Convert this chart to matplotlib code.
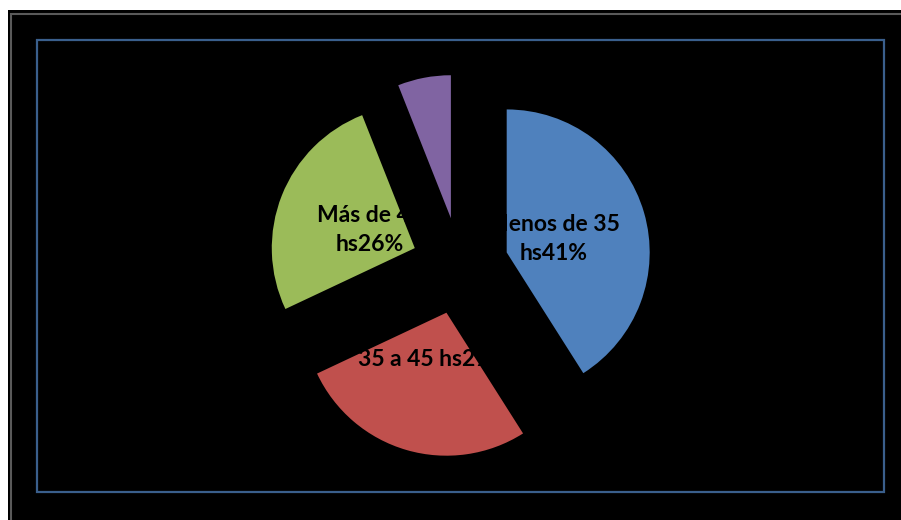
import matplotlib
matplotlib.use('Agg')
import matplotlib.pyplot as plt
from matplotlib.patches import Rectangle

# Data
categories = ['Menos de 35\nhs', '35 a 45 hs', 'Más de 45\nhs', 'Otros']
values = [41, 27, 26, 6]
colors = ['#4F81BD', '#C0504D', '#9BBB59', '#8064A2']
show_label = [True, True, True, False]

W, H = 901, 520
fig = plt.figure(figsize=(W / 100, H / 100), dpi=100, facecolor='white')


def px_rect(x0, y0, x1, y1, **kw):
    # rectangle given in image pixels (origin top-left)
    return Rectangle((x0 / W, 1 - y1 / H), (x1 - x0) / W, (y1 - y0) / H,
                     transform=fig.transFigure, zorder=-1, **kw)


# black chart area with thin gray frame and blue inner border
fig.add_artist(px_rect(8, 10, W + 5, H + 5, facecolor='black', edgecolor='none'))
fig.add_artist(px_rect(11, 14, W + 5, H + 5, facecolor='none', edgecolor='#5a5a5a', linewidth=1.5))
fig.add_artist(px_rect(37, 40, 884, 492, facecolor='none', edgecolor='#3a5f8c', linewidth=1.6))

# pie axes: centre at (460, 266) px, radius 143 px
cx, cy, r = 460, 266, 143
hw, hh = 300, 250
ax = fig.add_axes([(cx - hw) / W, 1 - (cy + hh) / H, 2 * hw / W, 2 * hh / H])
ax.set_facecolor('none')

labels = [f'{c}{v}%' if s else '' for c, v, s in zip(categories, values, show_label)]
wedges, texts = ax.pie(values, colors=colors, startangle=90, counterclock=False,
                       explode=[0.34] * len(values), labels=labels, labeldistance=0.34,
                       textprops=dict(color='black', fontsize=16.5, fontweight='bold',
                                      family='Lato', linespacing=1.5))
for t in texts:
    t.set_ha('center')
    t.set_va('center')

ax.set_xlim(-hw / r, hw / r)
ax.set_ylim(-hh / r, hh / r)
ax.axis('off')

plt.savefig('out.png', dpi=100, facecolor='white')
